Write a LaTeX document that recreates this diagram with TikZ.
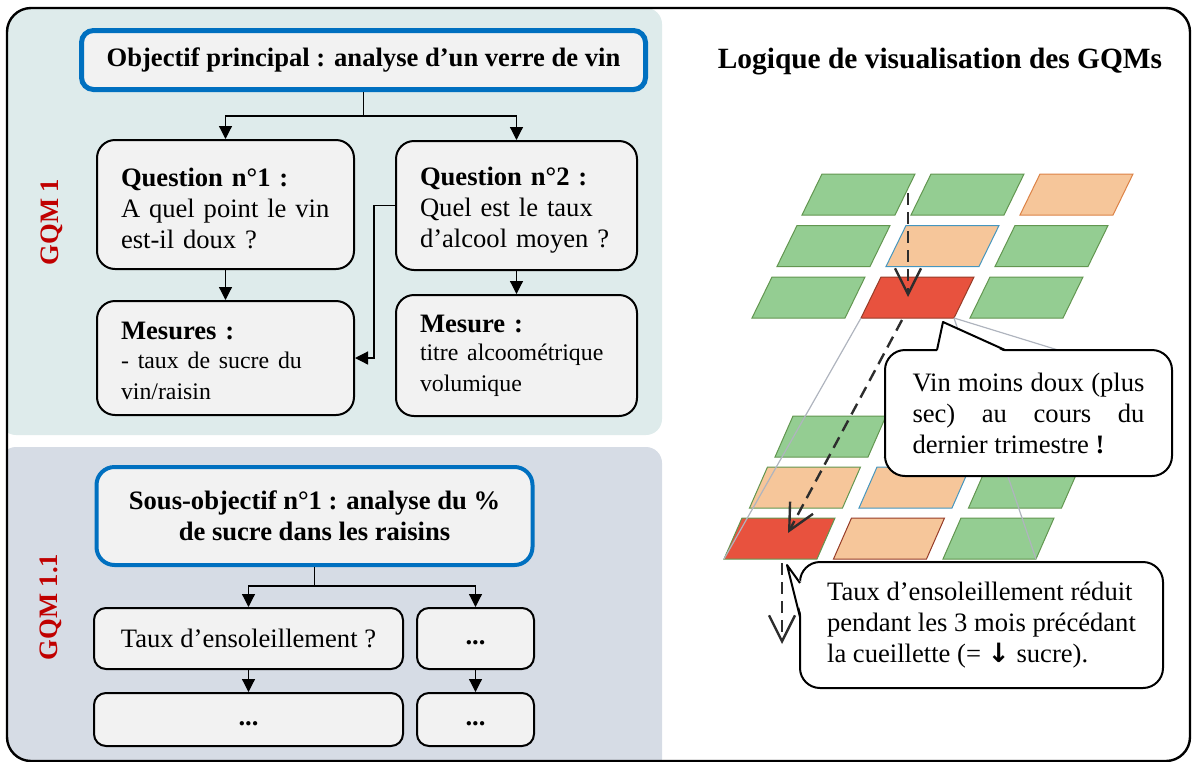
\documentclass[tikz,border=0pt]{standalone}
\usepackage{fontspec}
\setmainfont{Liberation Serif}
\newfontfamily\symfont{DejaVu Sans}
\usetikzlibrary{arrows.meta}

\definecolor{gqmblue}{RGB}{0,112,192}
\definecolor{gqmred}{RGB}{192,0,0}
\definecolor{paneltop}{RGB}{222,235,235}
\definecolor{panelbot}{RGB}{214,220,229}
\definecolor{boxfill}{RGB}{242,242,242}
\definecolor{tgreen}{RGB}{148,205,146}
\definecolor{tgreenb}{RGB}{98,150,80}
\definecolor{torange}{RGB}{246,198,154}
\definecolor{torangeb}{RGB}{220,130,70}
\definecolor{tred}{RGB}{232,82,62}
\definecolor{tredb}{RGB}{150,60,40}
\definecolor{tblueb}{RGB}{70,150,190}
\definecolor{projgrey}{RGB}{175,180,190}
\definecolor{dashgrey}{RGB}{45,45,45}

\begin{document}
\begin{tikzpicture}[x=0.5pt,y=-0.5pt,font=\fontsize{13.3}{15.5}\selectfont,
    box/.style={draw=black,line width=1pt,fill=boxfill,rounded corners=9pt,inner xsep=12pt,inner ysep=0pt,align=left},
    goal/.style={draw=gqmblue,line width=2.5pt,fill=boxfill,rounded corners=6pt,align=center,font=\fontsize{13.3}{15.5}\selectfont\bfseries},
    dotbox/.style={draw=black,line width=1pt,fill=boxfill,rounded corners=6pt,align=center},
    link/.style={line width=0.6pt,-{Triangle[length=6.5pt,width=6.5pt]}},
    gqm/.style={rotate=90,text=gqmred,font=\fontsize{13.3}{15.5}\selectfont\bfseries},
    proj/.style={draw=projgrey,line width=0.6pt},
    drill/.style={draw=dashgrey,line width=1.2pt,dash pattern=on 6pt off 3.5pt,-{Straight Barb[length=13pt,width=13pt]}},
    bubble/.style={draw=black,line width=1pt,fill=white,rounded corners=10pt,inner sep=0pt,align=left}]
    \useasboundingbox (0,0) rectangle (1195,761);

    % panels and frame
    \begin{scope}
        \clip[rounded corners=12pt] (7,8) rectangle (1190,761);
        \fill[paneltop,rounded corners=8pt] (0,8) rectangle (662,435);
        \fill[panelbot,rounded corners=8pt] (0,447) rectangle (662,775);
    \end{scope}
    \draw[line width=1.2pt,rounded corners=12pt] (7,8) rectangle (1190,761);

    % GQM 1
    \node[gqm] (gqm1) at (52,222) {GQM 1};
    \node[goal,minimum width=282pt,minimum height=29.5pt] (obj) at (363.5,60) {Objectif principal : analyse d’un verre de vin};
    \node[box,text width=104.5pt,minimum height=64.5pt] (q1) at (225.5,204.5) {\rule{0pt}{13.5pt}\textbf{Question n°1 :}\\A quel point le vin\\est-il doux ?};
    \node[box,text width=96.5pt,minimum height=64.5pt] (q2) at (516.5,205.5) {\rule{0pt}{13.5pt}\textbf{Question n°2 :}\\Quel est le taux\\d’alcool moyen ?};
    \node[box,text width=104.5pt,minimum height=57pt] (mes1) at (225.5,358) {\rule{0pt}{11.5pt}\textbf{Mesures :}\\ \fontsize{11.9}{14.5}\selectfont - taux de sucre du\\vin/raisin};
    \node[box,text width=96.5pt,minimum height=60.5pt] (mes2) at (516.5,355.5) {\textbf{Mesure :}\\ \fontsize{11.9}{14}\selectfont titre alcoométrique\\volumique};

    \draw[link] (obj.south) -- ++(0,24) coordinate (fork) -| (q1.north);
    \draw[link] (fork) -| (q2.north);
    \draw[link] (q1.south) -- (mes1.north);
    \draw[link] (q2.south) -- (mes2.north);
    \draw[link] (q2.west) -- ++(-21,0) |- (mes1.east);

    % GQM 1.1
    \node[gqm] (gqm11) at (51,607) {GQM 1.1};
    \node[goal,line width=2pt,rounded corners=9pt,minimum width=218pt,minimum height=49pt] (sub) at (314.5,516) {Sous-objectif n°1 : analyse du \%\\de sucre dans les raisins};
    \node[dotbox,minimum width=154.5pt,minimum height=30.5pt] (taux) at (248.5,638.5) {Taux d’ensoleillement ?};
    \node[dotbox,minimum width=58.5pt,minimum height=30.5pt] (etc1) at (475.5,638.5) {\strut\textbf{...}};
    \node[dotbox,minimum width=154.5pt,minimum height=26.5pt] (etc2) at (248.5,719.5) {\strut\textbf{...}};
    \node[dotbox,minimum width=58.5pt,minimum height=26.5pt] (etc3) at (475.5,719.5) {\strut\textbf{...}};

    \draw[link] (sub.south) -- ++(0,19) coordinate (subfork) -| (taux.north);
    \draw[link] (subfork) -| (etc1.north);
    \draw[link] (taux.south) -- (etc2.north);
    \draw[link] (etc1.south) -- (etc3.north);

    % visualisation
    \node[font=\fontsize{14.7}{17}\selectfont\bfseries] (title) at (940,62) {Logique de visualisation des GQMs};

    \foreach \i/\j/\f/\d in {0/0/tgreen/tgreenb,1/0/tgreen/tgreenb,2/0/tgreen/tgreenb,
                             0/1/torange/tgreenb,1/1/torange/tblueb,2/1/tgreen/tgreenb,
                             0/2/tred/tgreenb,1/2/torange/tredb,2/2/tgreen/tgreenb}
        \filldraw[fill=\f,draw=\d,line width=0.5pt] ({724+109.5*\i+25.5*(2-\j)},{457+51*\j}) -- ++(93,0) -- ++(18,-41) -- ++(-93,0) -- cycle;
    \foreach \i/\j/\f/\d in {0/0/tgreen/tgreenb,1/0/tgreen/tgreenb,2/0/torange/torangeb,
                             0/1/tgreen/tgreenb,1/1/torange/tblueb,2/1/tgreen/tgreenb,
                             0/2/tgreen/tgreenb,1/2/tred/tredb,2/2/tgreen/tgreenb}
        \filldraw[fill=\f,draw=\d,line width=0.5pt] ({752+109*\i+25*(2-\j)},{215+51.5*\j}) -- ++(93,0) -- ++(20,-41) -- ++(-93,0) -- cycle;

    \coordinate (redL) at (861,318);
    \coordinate (redR) at (954,318);
    \coordinate (baseL) at (724,559);
    \coordinate (baseR) at (1036,559);
    \coordinate (farR) at (1110,366);
    \draw[proj] (redL) -- (baseL);
    \draw[proj] (redR) -- (baseR);
    \draw[proj] (redR) -- (farR);

    \coordinate (d1s) at (908,193);
    \coordinate (d1e) at (908,297);
    \coordinate (d2s) at (902,320);
    \coordinate (d2e) at (788,533);
    \coordinate (d3s) at (782,563);
    \coordinate (d3e) at (782,644);
    \draw[drill] (d1s) -- (d1e);
    \draw[drill] (d2s) -- (d2e);
    \draw[drill] (d3s) -- (d3e);

    % callouts
    \node[bubble,minimum width=143.5pt,minimum height=63pt] (vin) at (1028.5,413) {\makebox[116pt][s]{Vin moins doux (plus}\\\makebox[116pt][s]{sec) au cours du}\\dernier trimestre \textbf{!}};
    \coordinate (vintip) at (943,322);
    \fill[white] (937,352) -- (vintip) -- (1005,352) -- cycle;
    \draw[line width=1pt,line join=round] (937,350) -- (vintip) -- (1005,350);

    \node[bubble,minimum width=181.5pt,minimum height=63pt] (soleil) at (981.5,625) {Taux d’ensoleillement réduit\\pendant les 3 mois précédant\\la cueillette (= {\symfont\bfseries ↓} sucre).};
    \coordinate (soleiltip) at (787,565);
    \fill[white] (802,583) -- (soleiltip) -- (802,617) -- cycle;
    \draw[line width=1pt,line join=round] (800,583) -- (soleiltip) -- (800,617);
\end{tikzpicture}
\end{document}
